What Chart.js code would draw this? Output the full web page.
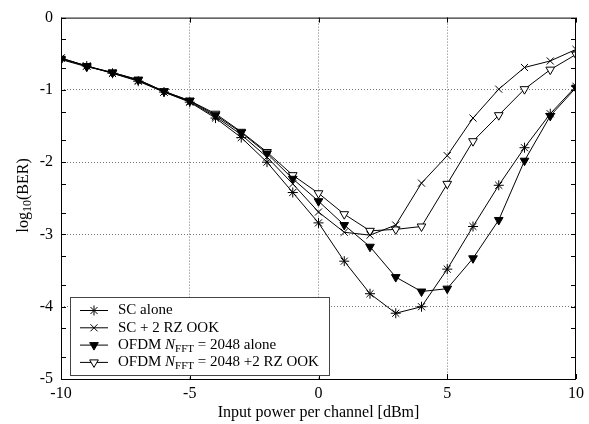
<!DOCTYPE html>
<html>
<head>
<meta charset="utf-8">
<script src="https://cdn.jsdelivr.net/npm/chart.js@4"></script>
<style>
  html, body { margin: 0; padding: 0; background: #fff; }
  #wrap { width: 589px; height: 424px; }
</style>
</head>
<body>
<div id="wrap"><canvas id="ber-chart"></canvas></div>
<script>
// input power per channel [dBm]
const powers = [-10, -9, -8, -7, -6, -5, -4, -3, -2, -1, 0, 1, 2, 3, 4, 5, 6, 7, 8, 9, 10];

// log10(BER)
const scAlone   = [-0.56, -0.67, -0.77, -0.88, -1.03, -1.17, -1.39, -1.66, -2.00, -2.42, -2.84, -3.37, -3.82, -4.09, -4.00, -3.48, -2.89, -2.32, -1.80, -1.33, -0.95];
const scOok     = [-0.56, -0.67, -0.77, -0.87, -1.03, -1.16, -1.37, -1.62, -1.93, -2.30, -2.69, -2.97, -3.01, -2.87, -2.29, -1.91, -1.39, -0.99, -0.69, -0.60, -0.44];
const ofdmAlone = [-0.57, -0.67, -0.76, -0.86, -1.02, -1.15, -1.35, -1.59, -1.88, -2.23, -2.54, -2.87, -3.17, -3.59, -3.79, -3.75, -3.33, -2.80, -1.98, -1.36, -0.97];
const ofdmOok   = [-0.58, -0.68, -0.76, -0.86, -1.02, -1.15, -1.33, -1.58, -1.86, -2.18, -2.43, -2.72, -2.95, -2.93, -2.89, -2.30, -1.71, -1.35, -0.99, -0.72, -0.51];

const xTicks = [-10, -5, 0, 5, 10];
const yMajor = [-5, -4, -3, -2, -1, 0];
// minor ticks sit at log positions (x2, x5) inside each decade
const yMinor = [-4.7, -4.3, -3.7, -3.3, -2.7, -2.3, -1.7, -1.3, -0.7, -0.3];

const serif = "'Liberation Serif', 'DejaVu Serif', serif";

const series = [
  { label: 'SC alone', data: scAlone, pointStyle: 'star', rotation: 0, fill: '#000' },
  { label: 'SC + 2 RZ OOK', data: scOok, pointStyle: 'crossRot', rotation: 0, fill: '#000' },
  { label: 'OFDM alone', data: ofdmAlone, pointStyle: 'triangle', rotation: 180, fill: '#000' },
  { label: 'OFDM + 2 RZ OOK', data: ofdmOok, pointStyle: 'triangle', rotation: 180, fill: '#fff' }
];

// legend text pieces: [text, style]  style: n normal, i italic, s subscript
const legendText = [
  [['SC alone', 'n']],
  [['SC + 2 RZ OOK', 'n']],
  [['OFDM ', 'n'], ['N', 'i'], ['FFT', 's'], [' = 2048 alone', 'n']],
  [['OFDM ', 'n'], ['N', 'i'], ['FFT', 's'], [' = 2048 +2 RZ OOK', 'n']]
];

function drawRich(ctx, parts, x, y) {
  parts.forEach(([txt, st]) => {
    let dy = 0;
    if (st === 'i') ctx.font = 'italic 15px ' + serif;
    else if (st === 's') { ctx.font = '11px ' + serif; dy = 4; }
    else ctx.font = '15px ' + serif;
    ctx.fillText(txt, x, y + dy);
    x += ctx.measureText(txt).width;
  });
}

const framePlugin = {
  id: 'frame',
  afterDatasetsDraw(chart) {
    const { ctx, chartArea: a, scales } = chart;
    ctx.save();
    ctx.strokeStyle = '#000';
    ctx.lineWidth = 1;
    ctx.strokeRect(a.left + 0.5, a.top + 0.5, a.right - a.left - 1, a.bottom - a.top);

    // inward ticks
    ctx.beginPath();
    yMajor.concat(yMinor).forEach(v => {
      const py = Math.round(scales.y.getPixelForValue(v)) + 0.5;
      ctx.moveTo(a.left, py); ctx.lineTo(a.left + 5, py);
      ctx.moveTo(a.right, py); ctx.lineTo(a.right - 5, py);
    });
    xTicks.forEach(v => {
      const px = Math.round(scales.x.getPixelForValue(v)) + 0.5;
      ctx.moveTo(px, a.bottom); ctx.lineTo(px, a.bottom - 5);
      ctx.moveTo(px, a.top); ctx.lineTo(px, a.top + 5);
    });
    ctx.stroke();

    // legend box
    const bx = a.left + 9, bw = 259, bh = 78, by = a.bottom - 4 - bh;
    ctx.fillStyle = '#fff';
    ctx.fillRect(bx, by, bw, bh);
    ctx.strokeStyle = '#444';
    ctx.strokeRect(bx + 0.5, by + 0.5, bw, bh);
    ctx.textBaseline = 'middle';
    series.forEach((s, i) => {
      const ly = by + 13.5 + i * 17.3;
      ctx.strokeStyle = '#000';
      ctx.lineWidth = 1;
      ctx.beginPath();
      ctx.moveTo(bx + 10, ly); ctx.lineTo(bx + 38, ly);
      ctx.stroke();
      ctx.fillStyle = s.fill;
      Chart.helpers.drawPoint(ctx, { pointStyle: s.pointStyle, rotation: s.rotation, radius: 5, borderWidth: 1 }, bx + 24, ly);
      ctx.fillStyle = '#000';
      drawRich(ctx, legendText[i], bx + 48, ly);
    });

    // y axis title with subscript
    ctx.translate(24, (a.top + a.bottom) / 2 - 3);
    ctx.rotate(-Math.PI / 2);
    ctx.fillStyle = '#000';
    ctx.textBaseline = 'middle';
    const parts = [['log', 16, 0], ['10', 12, 4], ['(BER)', 16, 0]];
    let total = 0;
    parts.forEach(([t, sz]) => { ctx.font = sz + 'px ' + serif; total += ctx.measureText(t).width; });
    let tx = -total / 2;
    parts.forEach(([t, sz, dy]) => {
      ctx.font = sz + 'px ' + serif;
      ctx.fillText(t, tx, dy);
      tx += ctx.measureText(t).width;
    });
    ctx.restore();
  }
};

new Chart(document.getElementById('ber-chart').getContext('2d'), {
  type: 'line',
  data: {
    labels: powers,
    datasets: series.map(s => ({
      label: s.label,
      data: s.data.map((v, i) => ({ x: powers[i], y: v })),
      borderColor: '#000',
      borderWidth: 1,
      backgroundColor: s.fill,
      pointStyle: s.pointStyle,
      rotation: s.rotation,
      pointRadius: 5,
      pointBorderWidth: 1,
      pointBackgroundColor: s.fill,
      pointBorderColor: '#000',
      tension: 0
    }))
  },
  options: {
    responsive: true,
    maintainAspectRatio: false,
    animation: false,
    layout: { padding: { top: 16, right: 11, left: 0, bottom: 0 } },
    plugins: { legend: { display: false }, tooltip: { enabled: false } },
    scales: {
      x: {
        type: 'linear',
        min: -10, max: 10,
        afterBuildTicks: scale => { scale.ticks = xTicks.map(v => ({ value: v })); },
        afterFit: scale => { scale.height = 45; },
        grid: {
          drawTicks: false,
          color: ctx => (ctx.tick && Math.abs(ctx.tick.value) < 10 ? '#777' : 'rgba(0,0,0,0)')
        },
        border: { display: false, dash: [1, 2] },
        ticks: { color: '#000', padding: 5, font: { family: serif, size: 16 }, maxRotation: 0 },
        title: { display: true, text: 'Input power per channel [dBm]', color: '#000', font: { family: serif, size: 16 }, padding: { top: 0, bottom: 2 } }
      },
      y: {
        type: 'linear',
        min: -5, max: 0,
        afterBuildTicks: scale => { scale.ticks = yMajor.map(v => ({ value: v })); },
        afterFit: scale => { scale.width = 61; },
        grid: {
          drawTicks: false,
          color: ctx => (ctx.tick && ctx.tick.value > -5 && ctx.tick.value < 0 ? '#777' : 'rgba(0,0,0,0)')
        },
        border: { display: false, dash: [1, 2] },
        ticks: { color: '#000', padding: 8, font: { family: serif, size: 16 } }
      }
    }
  },
  plugins: [framePlugin]
});
</script>
</body>
</html>
